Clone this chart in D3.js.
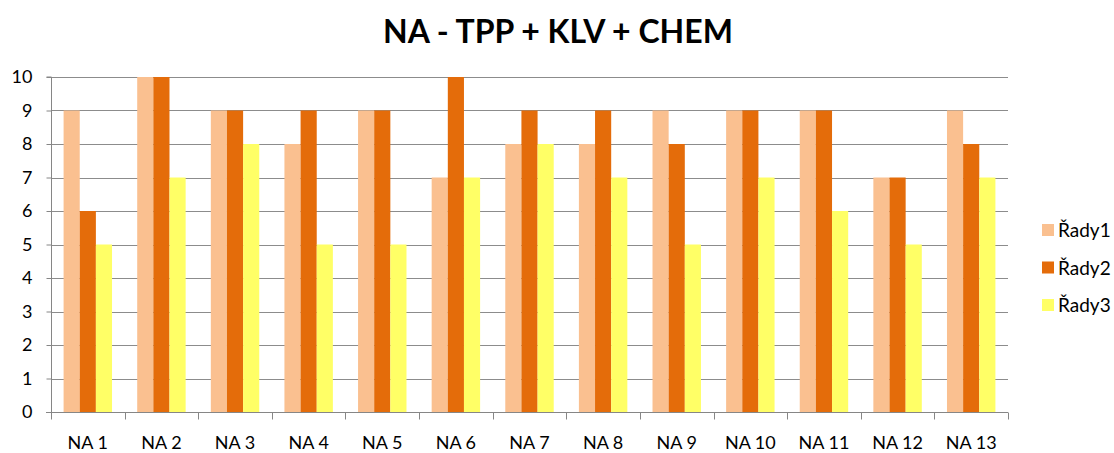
<!DOCTYPE html>
<html lang="cs">
<head>
  <meta charset="UTF-8">
  <title>NA - TPP + KLV + CHEM</title>
  <style>
    body { margin: 0; background: #fff; }
    svg text { font-family: Lato, "Open Sans", sans-serif; fill: #000; }
  </style>
</head>
<body>
<div id="chart"></div>
<script src="https://d3js.org/d3.v7.min.js"></script>
<script>
  const categories = ['NA 1', 'NA 2', 'NA 3', 'NA 4', 'NA 5', 'NA 6', 'NA 7', 'NA 8', 'NA 9', 'NA 10', 'NA 11', 'NA 12', 'NA 13'];
  const seriesNames = ['Řady1', 'Řady2', 'Řady3'];
  const rady1 = [9, 10, 9, 8, 9, 7, 8, 8, 9, 9, 9, 7, 9];
  const rady2 = [6, 10, 9, 9, 9, 10, 9, 9, 8, 9, 9, 7, 8];
  const rady3 = [5, 7, 8, 5, 5, 7, 8, 7, 5, 7, 6, 5, 7];
  const yTicks = [0, 1, 2, 3, 4, 5, 6, 7, 8, 9, 10];
  const colors = ['#FAC090', '#E46C0A', '#FFFF66'];

  const series = [rady1, rady2, rady3];
  const width = 1114, height = 453;
  const margin = { top: 77, right: 106, bottom: 41, left: 51 };

  const svg = d3.select('#chart').append('svg')
    .attr('width', width)
    .attr('height', height);

  const x = d3.scaleBand()
    .domain(categories)
    .range([margin.left, width - margin.right])
    .paddingInner(0.342)
    .paddingOuter(0.171);

  const xInner = d3.scaleBand()
    .domain(d3.range(series.length))
    .range([0, x.bandwidth()]);

  const y = d3.scaleLinear()
    .domain([0, 10])
    .range([height - margin.bottom, margin.top]);

  // gridlines
  svg.append('g')
    .selectAll('line')
    .data(yTicks.filter(d => d > 0))
    .enter().append('line')
    .attr('x1', margin.left)
    .attr('x2', width - margin.right)
    .attr('y1', d => Math.round(y(d)) + 0.5)
    .attr('y2', d => Math.round(y(d)) + 0.5)
    .attr('stroke', '#8c8c8c')
    .attr('stroke-width', 1);

  // bars
  const groups = svg.append('g')
    .selectAll('g')
    .data(categories)
    .enter().append('g')
    .attr('transform', d => `translate(${x(d)},0)`);

  groups.selectAll('rect')
    .data((d, i) => series.map((s, j) => ({ j, v: s[i] })))
    .enter().append('rect')
    .attr('x', d => xInner(d.j))
    .attr('width', xInner.bandwidth())
    .attr('y', d => y(d.v))
    .attr('height', d => y(0) - y(d.v))
    .attr('fill', d => colors[d.j]);

  // y axis
  const yAxis = svg.append('g')
    .attr('transform', `translate(${margin.left + 0.5},0)`)
    .call(d3.axisLeft(y).tickValues(yTicks).tickSize(5).tickPadding(14).tickFormat(d3.format('d')));
  yAxis.select('.domain').attr('stroke', '#868686').attr('d', `M-5,${y(10)}H0V${y(0)}`);
  yAxis.selectAll('.tick line').attr('stroke', '#868686');
  yAxis.selectAll('text').attr('font-size', 18).attr('font-family', 'Lato, sans-serif').attr('fill', '#000');

  // x axis
  const xAxis = svg.append('g')
    .attr('transform', `translate(0,${Math.round(y(0)) + 0.5})`);
  xAxis.append('line')
    .attr('x1', margin.left - 5)
    .attr('x2', width - margin.right)
    .attr('stroke', '#868686');
  const step = x.step();
  xAxis.selectAll('.tk')
    .data(d3.range(categories.length + 1))
    .enter().append('line')
    .attr('x1', i => Math.round(margin.left + i * step) + 0.5)
    .attr('x2', i => Math.round(margin.left + i * step) + 0.5)
    .attr('y1', 0).attr('y2', 7)
    .attr('stroke', '#868686');
  xAxis.selectAll('text')
    .data(categories)
    .enter().append('text')
    .attr('x', d => x(d) + x.bandwidth() / 2)
    .attr('y', 36)
    .attr('text-anchor', 'middle')
    .attr('font-size', 18)
    .text(d => d);

  // title
  svg.append('text')
    .attr('x', 558)
    .attr('y', 43)
    .attr('text-anchor', 'middle')
    .attr('font-size', 32)
    .attr('font-weight', 'bold')
    .text('NA - TPP + KLV + CHEM');

  // legend
  const legend = svg.append('g')
    .selectAll('g')
    .data(seriesNames)
    .enter().append('g')
    .attr('transform', (d, i) => `translate(1042,${230 + i * 37.5})`);
  legend.append('rect')
    .attr('x', 0).attr('y', -6)
    .attr('width', 12).attr('height', 12)
    .attr('fill', (d, i) => colors[i]);
  legend.append('text')
    .attr('x', 16)
    .attr('y', 7)
    .attr('font-size', 19)
    .text(d => d);
</script>
</body>
</html>
